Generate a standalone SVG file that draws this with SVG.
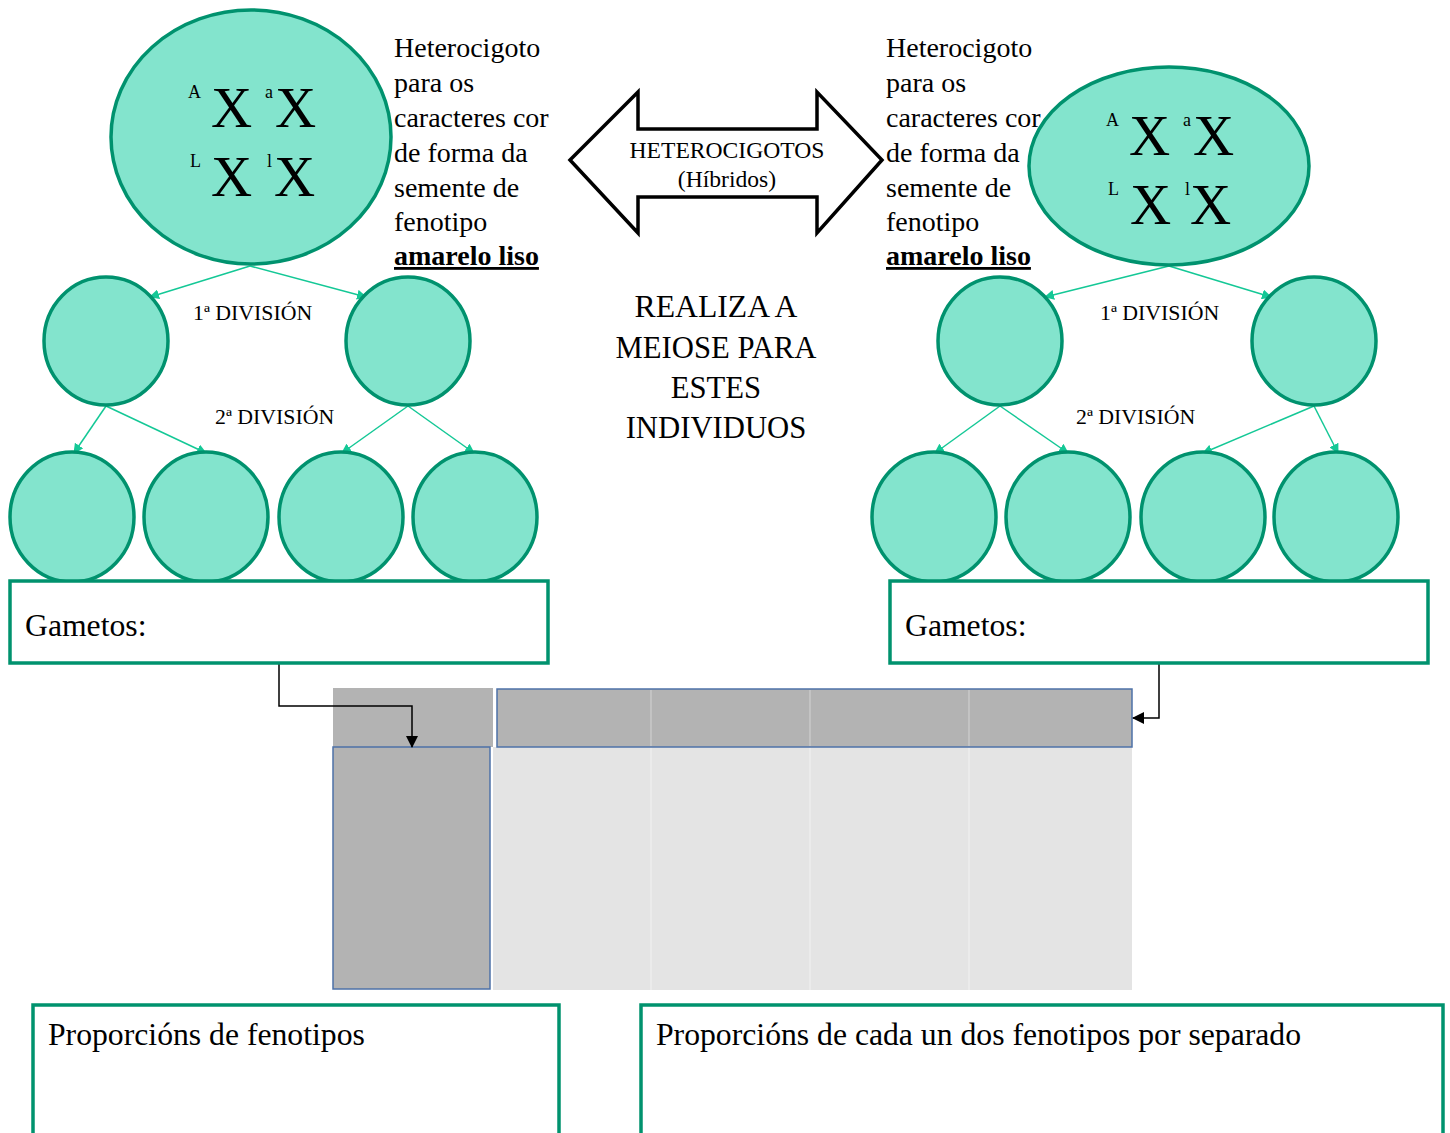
<svg xmlns="http://www.w3.org/2000/svg" width="1450" height="1133" viewBox="0 0 1450 1133">
<style>
text{font-family:"Liberation Serif","Times New Roman",serif;fill:#000}
.cell{fill:#83E4CD;stroke:#00926E;stroke-width:3.5}
.g{stroke:#14C896;stroke-width:1.5;fill:none}
.box{fill:#fff;stroke:#00926E;stroke-width:3.5}
.body{font-size:28px}
.X{font-size:57px}
.sup{font-size:18px}
.div{font-size:21.8px}
.big{font-size:31.7px}
.blk{stroke:#000;stroke-width:1.5;fill:none}
</style>
<defs>
<marker id="ga" markerWidth="10" markerHeight="10" refX="9" refY="5" orient="auto" markerUnits="userSpaceOnUse" viewBox="0 0 10 10">
<path d="M0,0 L10,5 L0,10 z" fill="#14C896"/>
</marker>
<marker id="ba" markerWidth="12" markerHeight="12" refX="11" refY="6" orient="auto" markerUnits="userSpaceOnUse" viewBox="0 0 12 12">
<path d="M0,0 L12,6 L0,12 z" fill="#000"/>
</marker>
</defs>
<rect width="1450" height="1133" fill="#fff"/>

<!-- table -->
<g id="table">
<rect x="333" y="688" width="160" height="59" fill="#B3B3B3"/>
<rect x="493" y="747" width="639" height="243" fill="#E4E4E4"/>
<line x1="651" y1="747" x2="651" y2="990" stroke="#F2F2F2" stroke-width="1"/>
<line x1="810" y1="747" x2="810" y2="990" stroke="#F2F2F2" stroke-width="1"/>
<line x1="969" y1="747" x2="969" y2="990" stroke="#F2F2F2" stroke-width="1"/>
<rect x="497" y="689" width="635" height="58" fill="#B3B3B3" stroke="#4E72A8" stroke-width="1.5"/>
<line x1="651" y1="690" x2="651" y2="746" stroke="#D4D4D4" stroke-width="1"/>
<line x1="810" y1="690" x2="810" y2="746" stroke="#D4D4D4" stroke-width="1"/>
<line x1="969" y1="690" x2="969" y2="746" stroke="#D4D4D4" stroke-width="1"/>
<rect x="333" y="747" width="157" height="242" fill="#B3B3B3" stroke="#4E72A8" stroke-width="1.5"/>
</g>

<g id="connectors">
<line class="g" x1="250" y1="266" x2="150" y2="297" marker-end="url(#ga)"/>
<line class="g" x1="250" y1="266" x2="366" y2="297" marker-end="url(#ga)"/>
<line class="g" x1="106" y1="406" x2="74" y2="453" marker-end="url(#ga)"/>
<line class="g" x1="106" y1="406" x2="206" y2="453" marker-end="url(#ga)"/>
<line class="g" x1="408" y1="406" x2="342" y2="453" marker-end="url(#ga)"/>
<line class="g" x1="408" y1="406" x2="474" y2="453" marker-end="url(#ga)"/>
<line class="g" x1="1169" y1="266" x2="1045" y2="297" marker-end="url(#ga)"/>
<line class="g" x1="1169" y1="266" x2="1271" y2="297" marker-end="url(#ga)"/>
<line class="g" x1="1000" y1="406" x2="935" y2="453" marker-end="url(#ga)"/>
<line class="g" x1="1000" y1="406" x2="1068" y2="453" marker-end="url(#ga)"/>
<line class="g" x1="1314" y1="406" x2="1203" y2="453" marker-end="url(#ga)"/>
<line class="g" x1="1314" y1="406" x2="1338" y2="453" marker-end="url(#ga)"/>
<polyline class="blk" points="279,663 279,706 412,706 412,747" marker-end="url(#ba)"/>
<polyline class="blk" points="1159,663 1159,718 1133,718" marker-end="url(#ba)"/>
</g>

<g id="parent-left">
<ellipse class="cell" cx="251" cy="137" rx="140" ry="127"/>
<text class="sup" x="188" y="98">A</text>
<text class="X" x="211" y="127">X</text>
<text class="sup" x="265" y="98">a</text>
<text class="X" x="275" y="127">X</text>
<text class="sup" x="190" y="167">L</text>
<text class="X" x="211" y="196">X</text>
<text class="sup" x="267" y="167">l</text>
<text class="X" x="274" y="196">X</text>
</g>

<g id="label-left">
<text class="body" x="394" y="57">Heterocigoto</text>
<text class="body" x="394" y="92">para os</text>
<text class="body" x="394" y="127">caracteres cor</text>
<text class="body" x="394" y="162">de forma da</text>
<text class="body" x="394" y="197">semente de</text>
<text class="body" x="394" y="231">fenotipo</text>
<text class="body" x="394" y="265" font-weight="bold" text-decoration="underline">amarelo liso</text>
</g>

<g id="parent-right">
<ellipse class="cell" cx="1169" cy="166" rx="140" ry="99"/>
<text class="sup" x="1106" y="126">A</text>
<text class="X" x="1129" y="155">X</text>
<text class="sup" x="1183" y="126">a</text>
<text class="X" x="1193" y="155">X</text>
<text class="sup" x="1108" y="195">L</text>
<text class="X" x="1130" y="224">X</text>
<text class="sup" x="1185" y="195">l</text>
<text class="X" x="1190" y="224">X</text>
</g>

<g id="label-right">
<text class="body" x="886" y="57">Heterocigoto</text>
<text class="body" x="886" y="92">para os</text>
<text class="body" x="886" y="127">caracteres cor</text>
<text class="body" x="886" y="162">de forma da</text>
<text class="body" x="886" y="197">semente de</text>
<text class="body" x="886" y="231">fenotipo</text>
<text class="body" x="886" y="265" font-weight="bold" text-decoration="underline">amarelo liso</text>
</g>

<g id="double-arrow">
<polygon points="570,160 638,92 638,129 817,129 817,92 882,160 817,233 817,197 638,197 638,233" fill="#fff" stroke="#000" stroke-width="3.5" stroke-linejoin="miter"/>
<text x="727" y="158" text-anchor="middle" font-size="23.6">HETEROCIGOTOS</text>
<text x="727" y="187" text-anchor="middle" font-size="23.6">(Híbridos)</text>
</g>

<g id="instruction">
<text class="big" x="716" y="317" text-anchor="middle" font-size="30.7">REALIZA A</text>
<text class="big" x="716" y="358" text-anchor="middle" style="font-size:30.7px">MEIOSE PARA</text>
<text class="big" x="716" y="398" text-anchor="middle" style="font-size:30.7px">ESTES</text>
<text class="big" x="716" y="438" text-anchor="middle" style="font-size:30.7px">INDIVIDUOS</text>
</g>

<g id="div-labels">
<text class="div" x="193" y="320">1ª DIVISIÓN</text>
<text class="div" x="215" y="424">2ª DIVISIÓN</text>
<text class="div" x="1100" y="320">1ª DIVISIÓN</text>
<text class="div" x="1076" y="424">2ª DIVISIÓN</text>
</g>

<g id="cells-left-1"><ellipse class="cell" cx="106" cy="341" rx="62" ry="64"/></g>
<g id="cells-left-2"><ellipse class="cell" cx="408" cy="341" rx="62" ry="64"/></g>
<g id="cells-right-1"><ellipse class="cell" cx="1000" cy="341" rx="62" ry="64"/></g>
<g id="cells-right-2"><ellipse class="cell" cx="1314" cy="341" rx="62" ry="64"/></g>

<g id="gamete-l1"><ellipse class="cell" cx="72" cy="517" rx="62" ry="65"/></g>
<g id="gamete-l2"><ellipse class="cell" cx="206" cy="517" rx="62" ry="65"/></g>
<g id="gamete-l3"><ellipse class="cell" cx="341" cy="517" rx="62" ry="65"/></g>
<g id="gamete-l4"><ellipse class="cell" cx="475" cy="517" rx="62" ry="65"/></g>
<g id="gamete-r1"><ellipse class="cell" cx="934" cy="517" rx="62" ry="65"/></g>
<g id="gamete-r2"><ellipse class="cell" cx="1068" cy="517" rx="62" ry="65"/></g>
<g id="gamete-r3"><ellipse class="cell" cx="1203" cy="517" rx="62" ry="65"/></g>
<g id="gamete-r4"><ellipse class="cell" cx="1336" cy="517" rx="62" ry="65"/></g>

<g id="gametos-left">
<rect class="box" x="10" y="581" width="538" height="82"/>
<text class="big" x="25" y="636">Gametos:</text>
</g>
<g id="gametos-right">
<rect class="box" x="890" y="581" width="538" height="82"/>
<text class="big" x="905" y="636">Gametos:</text>
</g>

<g id="prop-left">
<rect class="box" x="33" y="1005" width="526" height="130"/>
<text class="big" x="48" y="1045">Proporcións de fenotipos</text>
</g>
<g id="prop-right">
<rect class="box" x="641" y="1005" width="802" height="130"/>
<text class="big" x="656" y="1045">Proporcións de cada un dos fenotipos por separado</text>
</g>
</svg>
